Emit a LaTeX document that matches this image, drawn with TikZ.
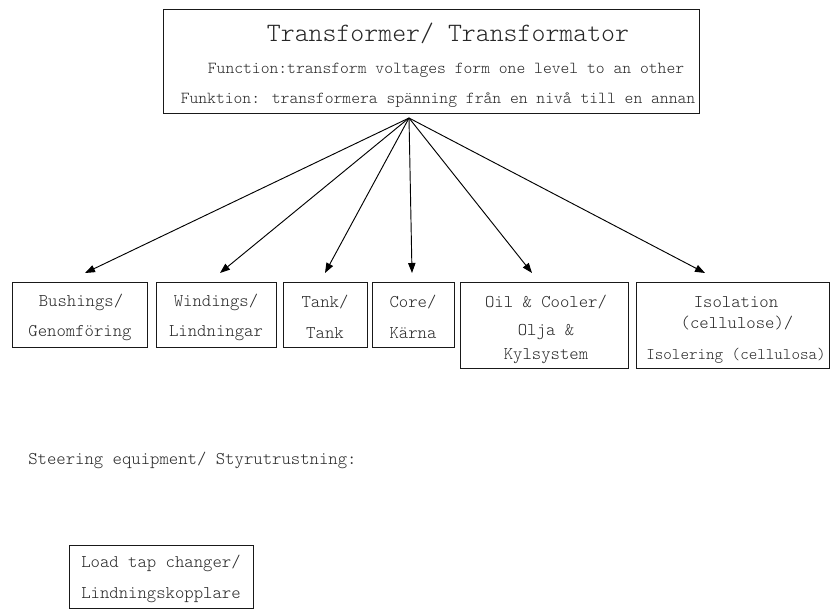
\documentclass[tikz,border=0pt]{standalone}
\usetikzlibrary{arrows.meta,fit}

% typewriter face in light weight for all labels
\newcommand\twfont[1]{\ttfamily\fontseries{l}\fontsize{#1}{#1}\selectfont}

\tikzset{
  frame/.style={draw=black!90, line width=0.7pt, inner sep=0pt},
  txt/.style={inner sep=0pt, text=black!85},
  title/.style={txt, font=\twfont{19.9}},
  subline/.style={txt, font=\twfont{12.6}},
  lbl/.style={txt, font=\twfont{13.4}},
  lblsmall/.style={txt, font=\twfont{12.2}},
  link/.style={line width=0.7pt, -{Triangle[length=7.5pt,width=5.5pt]}}
}

\begin{document}
\begin{tikzpicture}[x=0.75pt, y=-0.75pt]
\useasboundingbox (0,0) rectangle (831,610);

% main box
\node[frame, fit={(163,9) (699,113)}] (main) {};
\node[title]   (mainT)  at (448,33)  {Transformer/ Transformator};
\node[subline] (mainF1) at (446,70)  {Function:transform voltages form one level to an other};
\node[subline] (mainF2) at (438,100) {Funktion: transformera spänning från en nivå till en annan};

% component boxes
\node[frame, fit={(12,282) (147,347)}]  (bush) {};
\node[frame, fit={(156,282) (276,347)}] (wind) {};
\node[frame, fit={(283,282) (367,347)}] (tank) {};
\node[frame, fit={(372,282) (454,347)}] (core) {};
\node[frame, fit={(460,282) (628,368)}] (oil)  {};
\node[frame, fit={(636,282) (829.5,368)}] (iso) {};

\node[lbl] (bushA) at (81,302) {Bushings/};
\node[lbl] (bushB) at (80,333) {Genomföring};
\node[lbl] (windA) at (216,302) {Windings/};
\node[lbl] (windB) at (216,333) {Lindningar};
\node[lbl] (tankA) at (325,302) {Tank/};
\node[lbl] (tankB) at (325,333) {Tank};
\node[lbl] (coreA) at (413,302) {Core/};
\node[lbl] (coreB) at (413,333) {Kärna};
\node[lbl] (oilA)  at (546,302) {Oil \& Cooler/};
\node[lbl] (oilB)  at (546,332) {Olja \&};
\node[lbl] (oilC)  at (546,356) {Kylsystem};
\node[lbl] (isoA)  at (736,302) {Isolation};
\node[lbl] (isoB)  at (737,323) {(cellulose)/};
\node[lblsmall] (isoC)  at (736,356) {Isolering (cellulosa)};

% connectors from the main box to each component
\coordinate (src)   at (409,118);
\coordinate (toBush) at (85,273);
\coordinate (toWind) at (220,273);
\coordinate (toTank) at (325,273);
\coordinate (toCore) at (412,273);
\coordinate (toOil)  at (532,273);
\coordinate (toIso)  at (705,273);
\foreach \t in {toBush,toWind,toTank,toCore,toOil,toIso}
  \draw[link] (src) -- (\t);

% steering equipment
\node[lbl, anchor=base west] (steer) at (28,464) {Steering equipment/ Styrutrustning:};
\node[frame, fit={(69,545) (253,608)}] (ltc) {};
\node[lbl] (ltcA) at (161,563) {Load tap changer/};
\node[lbl] (ltcB) at (161,595) {Lindningskopplare};
\end{tikzpicture}
\end{document}
